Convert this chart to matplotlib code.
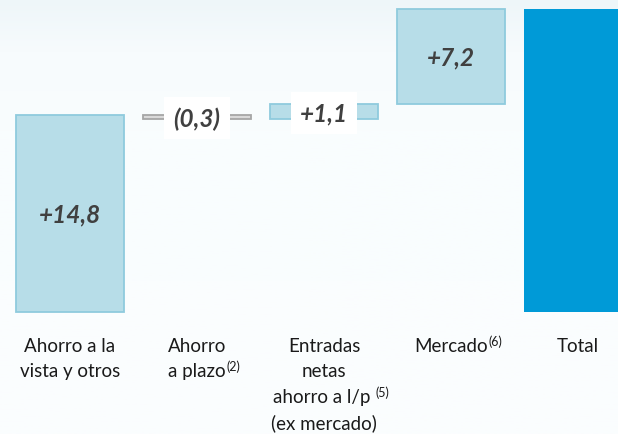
import numpy as np
import matplotlib
matplotlib.use("Agg")
import matplotlib.pyplot as plt
from matplotlib.colors import LinearSegmentedColormap
from matplotlib.transforms import offset_copy

plt.rcParams['font.family'] = ['Lato', 'DejaVu Sans']

# ---- data ----
# each category: list of lines; each line = (main text, superscript)
categories = [
    [("Ahorro a la", ""), ("vista y otros", "")],
    [("Ahorro", ""), ("a plazo", "(2)")],
    [("Entradas", ""), ("netas", ""), ("ahorro a l/p ", "(5)"), ("(ex mercado)", "")],
    [("Mercado", "(6)")],
    [("Total", "")],
]
changes = [14.8, -0.3, 1.1, 7.2]
value_labels = ["+14,8", "(0,3)", "+1,1", "+7,2"]

# ---- compute waterfall ----
bases, heights = [], []
run = 0.0
for c in changes:
    if c >= 0:
        bases.append(run)
        heights.append(c)
    else:
        bases.append(run + c)
        heights.append(-c)
    run += c
total = run

W, H = 618, 435
fig = plt.figure(figsize=(W / 100, H / 100), dpi=100)

# background gradient
bg = fig.add_axes([0, 0, 1, 1])
bg.set_axis_off()
grad = np.linspace(0, 1, 256).reshape(-1, 1)
cmap = LinearSegmentedColormap.from_list(
    "bg", [(0, "#eef6f9"), (0.12, "#f7fbfd"), (0.3, "#f9fdfe"), (1, "#fbfdfe")])
bg.imshow(grad, aspect="auto", cmap=cmap, extent=[0, 1, 0, 1], origin="upper")
bg.set_xlim(0, 1)
bg.set_ylim(0, 1)

ax = fig.add_axes([0, 0, 1, 1])
ax.set_facecolor("none")
ax.set_axis_off()

px_per_unit = 13.31
base_px = 122  # baseline from bottom in px
ax.set_ylim(-base_px / px_per_unit, (H - base_px) / px_per_unit)
spacing = 127
ax.set_xlim(-70 / spacing, (W - 70) / spacing)

x = np.arange(len(categories))
bw = 0.843

light_face = "#b7dde8"
light_edge = "#8fcbdd"
for i, (b, h, c) in enumerate(zip(bases, heights, changes)):
    if c >= 0:
        fc, ec = light_face, light_edge
    else:
        fc, ec = "#d9d9d9", "#a6a6a6"
    ax.bar(x[i], h, bottom=b, width=bw, color=fc, edgecolor=ec, linewidth=1.3, zorder=2)

ax.bar(x[4], total, bottom=0, width=bw, color="#009ad7", edgecolor="none", zorder=2)

# value labels
label_color = "#404040"
for i, (b, h, lab) in enumerate(zip(bases, heights, value_labels)):
    yc = b + h / 2
    kw = dict(ha="center", va="center", fontsize=17.5, fontweight="bold",
              fontstyle="italic", color=label_color, zorder=4)
    if h < 2:
        ax.text(x[i], yc - 0.1, lab,
                bbox=dict(boxstyle="square,pad=0.38", fc="white", ec="none"), **kw)
    else:
        ax.text(x[i], yc, lab, **kw)

# category labels, drawn line by line (points offsets: 1px = 0.72pt)
first_baseline_px = 351.7 - (H - base_px)  # px below the zero line
line_px = 25.8
fig.canvas.draw()
for i, lines in enumerate(categories):
    for j, (main, sup) in enumerate(lines):
        dy_px = -(first_baseline_px + j * line_px)
        tr = offset_copy(ax.transData, fig=fig, x=0, y=dy_px * 0.72, units="points")
        t = ax.text(x[i], 0, main, transform=tr, ha="center", va="baseline",
                    fontsize=13.5, color="#1a1a1a", zorder=4)
        if sup:
            ax.annotate(sup, xy=(1, 0), xycoords=t, xytext=(0.5, 6.5),
                        textcoords="offset points", ha="left", va="baseline",
                        fontsize=9, color="#1a1a1a", zorder=4)

fig.savefig("out.png", dpi=100)
